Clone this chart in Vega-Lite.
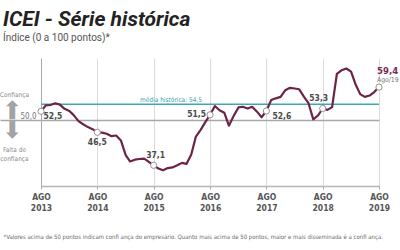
{
  "$schema": "https://vega.github.io/schema/vega-lite/v6.json",
  "width": 338,
  "height": 128,
  "autosize": "none",
  "padding": {"left": 41, "top": 58, "right": 21, "bottom": 64},
  "title": {
    "text": "ICEI - Série histórica",
    "subtitle": "Índice (0 a 100 pontos)*",
    "anchor": "start",
    "frame": "group",
    "dx": -38,
    "offset": 15
  },
  "data": {
    "format": {"parse": {"mes": "date"}},
    "values": [
      {"mes": "2013-08-01", "valor": 52.5},
      {"mes": "2013-09-01", "valor": 54.2},
      {"mes": "2013-10-01", "valor": 54.3},
      {"mes": "2013-11-01", "valor": 54.8},
      {"mes": "2013-12-01", "valor": 54.4},
      {"mes": "2014-01-01", "valor": 53.2},
      {"mes": "2014-02-01", "valor": 52.6},
      {"mes": "2014-03-01", "valor": 51.4},
      {"mes": "2014-04-01", "valor": 49.7},
      {"mes": "2014-05-01", "valor": 48.8},
      {"mes": "2014-06-01", "valor": 48.0},
      {"mes": "2014-07-01", "valor": 47.4},
      {"mes": "2014-08-01", "valor": 46.5},
      {"mes": "2014-09-01", "valor": 46.4},
      {"mes": "2014-10-01", "valor": 46.1},
      {"mes": "2014-11-01", "valor": 45.4},
      {"mes": "2014-12-01", "valor": 45.6},
      {"mes": "2015-01-01", "valor": 44.2},
      {"mes": "2015-02-01", "valor": 40.0},
      {"mes": "2015-03-01", "valor": 38.2},
      {"mes": "2015-04-01", "valor": 38.7},
      {"mes": "2015-05-01", "valor": 38.9},
      {"mes": "2015-06-01", "valor": 39.0},
      {"mes": "2015-07-01", "valor": 38.1},
      {"mes": "2015-08-01", "valor": 37.1},
      {"mes": "2015-09-01", "valor": 36.2},
      {"mes": "2015-10-01", "valor": 35.7},
      {"mes": "2015-11-01", "valor": 36.3},
      {"mes": "2015-12-01", "valor": 36.5},
      {"mes": "2016-01-01", "valor": 37.1},
      {"mes": "2016-02-01", "valor": 37.8},
      {"mes": "2016-03-01", "valor": 37.5},
      {"mes": "2016-04-01", "valor": 40.2},
      {"mes": "2016-05-01", "valor": 45.3},
      {"mes": "2016-06-01", "valor": 47.2},
      {"mes": "2016-07-01", "valor": 49.4},
      {"mes": "2016-08-01", "valor": 51.5},
      {"mes": "2016-09-01", "valor": 54.0},
      {"mes": "2016-10-01", "valor": 52.8},
      {"mes": "2016-11-01", "valor": 52.1},
      {"mes": "2016-12-01", "valor": 48.4},
      {"mes": "2017-01-01", "valor": 51.2},
      {"mes": "2017-02-01", "valor": 53.6},
      {"mes": "2017-03-01", "valor": 53.8},
      {"mes": "2017-04-01", "valor": 53.3},
      {"mes": "2017-05-01", "valor": 53.8},
      {"mes": "2017-06-01", "valor": 52.4},
      {"mes": "2017-07-01", "valor": 50.8},
      {"mes": "2017-08-01", "valor": 52.6},
      {"mes": "2017-09-01", "valor": 55.7},
      {"mes": "2017-10-01", "valor": 56.2},
      {"mes": "2017-11-01", "valor": 56.6},
      {"mes": "2017-12-01", "valor": 58.5},
      {"mes": "2018-01-01", "valor": 59.2},
      {"mes": "2018-02-01", "valor": 59.0},
      {"mes": "2018-03-01", "valor": 58.8},
      {"mes": "2018-04-01", "valor": 56.7},
      {"mes": "2018-05-01", "valor": 54.8},
      {"mes": "2018-06-01", "valor": 50.2},
      {"mes": "2018-07-01", "valor": 51.3},
      {"mes": "2018-08-01", "valor": 53.3},
      {"mes": "2018-09-01", "valor": 52.9},
      {"mes": "2018-10-01", "valor": 53.7},
      {"mes": "2018-11-01", "valor": 63.2},
      {"mes": "2018-12-01", "valor": 64.2},
      {"mes": "2019-01-01", "valor": 64.7},
      {"mes": "2019-02-01", "valor": 63.8},
      {"mes": "2019-03-01", "valor": 60.3},
      {"mes": "2019-04-01", "valor": 57.4},
      {"mes": "2019-05-01", "valor": 56.6},
      {"mes": "2019-06-01", "valor": 57.0},
      {"mes": "2019-07-01", "valor": 58.0},
      {"mes": "2019-08-01", "valor": 59.4}
    ]
  },
  "resolve": {"axis": {"y": "independent"}},
  "layer": [
    {
      "data": {"values": [{"texto": "média histórica: 54,5", "valor": 54.5}]},
      "mark": {"type": "rule", "color": "#3ea7b2", "strokeWidth": 1.5},
      "encoding": {
        "y": {
          "field": "valor",
          "type": "quantitative",
          "title": null,
          "axis": {
            "orient": "left",
            "offset": 0,
            "values": [57.3, 41.6],
            "labelExpr": "datum.value > 50 ? 'Confiança' : ['Falta de', 'confiança']",
            "domain": false,
            "ticks": false,
            "grid": false,
            "labelPadding": 27,
            "labelAlign": "center",
            "labelBaseline": "middle",
            "labelFontSize": 6.5,
            "labelColor": "#8c8c8c",
            "labelLineHeight": 8.5,
            "labelOverlap": false,
            "labelFlush": false
          }
        }
      }
    },
    {
      "data": {"values": [{"texto": "média histórica: 54,5", "valor": 54.5}]},
      "mark": {"type": "text", "align": "right", "baseline": "bottom", "dy": -1.5, "fontSize": 6.5, "color": "#3a9fab"},
      "encoding": {
        "x": {"datum": {"year": 2016, "month": 6, "date": 10, "utc": true}, "type": "temporal", "title": null},
        "y": {
          "field": "valor",
          "type": "quantitative",
          "title": null,
          "axis": {
            "orient": "left",
            "offset": 0,
            "values": [52.6, 47.2],
            "labelExpr": "datum.value > 50 ? '⬆' : '⬇'",
            "domain": false,
            "ticks": false,
            "grid": false,
            "labelPadding": 29,
            "labelAlign": "center",
            "labelBaseline": "middle",
            "labelFont": "DejaVu Sans",
            "labelFontSize": 25,
            "labelColor": "#a3a3a3",
            "labelOverlap": false,
            "labelFlush": false
          }
        },
        "text": {"field": "texto", "type": "nominal"}
      }
    },
    {
      "mark": {"type": "line", "color": "#6d2347", "strokeWidth": 2.2, "strokeJoin": "round"},
      "encoding": {
        "x": {
          "field": "mes",
          "type": "temporal",
          "title": "*Valores acima de 50 pontos indicam confi ança do empresário. Quanto mais acima de 50 pontos, maior e mais disseminada é a confi ança.",
          "scale": {
            "type": "utc",
            "domain": [
              {"year": 2013, "month": 8, "date": 1, "utc": true},
              {"year": 2019, "month": 8, "date": 1, "utc": true}
            ]
          },
          "axis": {
            "values": [
              {"year": 2013, "month": 8, "date": 1, "utc": true},
              {"year": 2014, "month": 2, "date": 1, "utc": true},
              {"year": 2014, "month": 8, "date": 1, "utc": true},
              {"year": 2015, "month": 2, "date": 1, "utc": true},
              {"year": 2015, "month": 8, "date": 1, "utc": true},
              {"year": 2016, "month": 2, "date": 1, "utc": true},
              {"year": 2016, "month": 8, "date": 1, "utc": true},
              {"year": 2017, "month": 2, "date": 1, "utc": true},
              {"year": 2017, "month": 8, "date": 1, "utc": true},
              {"year": 2018, "month": 2, "date": 1, "utc": true},
              {"year": 2018, "month": 8, "date": 1, "utc": true},
              {"year": 2019, "month": 2, "date": 1, "utc": true},
              {"year": 2019, "month": 8, "date": 1, "utc": true}
            ],
            "labelExpr": "utcmonth(datum.value) === 7 ? ['AGO', utcFormat(datum.value, '%Y')] : 'FEV'",
            "labelFontWeight": "bold",
            "labelFontSize": 8.5,
            "labelColor": "#555555",
            "labelAlign": "center",
            "labelBaseline": "top",
            "labelPadding": 3,
            "labelLineHeight": 11,
            "labelFlush": false,
            "labelOverlap": false,
            "grid": true,
            "gridColor": "#dcdcdc",
            "gridWidth": 1,
            "ticks": true,
            "tickSize": 3,
            "tickColor": "#aaaaaa",
            "domainColor": "#b5b5b5",
            "domainWidth": 1.5,
            "titleAnchor": "start",
            "titleAlign": "left",
            "titleX": -38,
            "titleY": 50,
            "titleBaseline": "middle",
            "titleFontSize": 6,
            "titleFontWeight": "normal",
            "titleColor": "#6a6a6a"
          }
        },
        "y": {
          "field": "valor",
          "type": "quantitative",
          "title": null,
          "scale": {"domain": [31.2, 67.7], "nice": false, "zero": false},
          "axis": {
            "orient": "left",
            "offset": 0,
            "values": [50],
            "labelExpr": "format(datum.value, '.1f')",
            "domain": true,
            "domainColor": "#aaaaaa",
            "domainWidth": 1,
            "ticks": true,
            "tickSize": 41,
            "tickColor": "#a8a8a8",
            "tickWidth": 1.5,
            "grid": true,
            "gridColor": "#a8a8a8",
            "gridWidth": 1.5,
            "labelPadding": -36,
            "labelAlign": "right",
            "labelBaseline": "alphabetic",
            "labelOffset": -2,
            "labelColor": "#777777",
            "labelFontSize": 8,
            "labelOverlap": false,
            "labelFlush": false
          }
        }
      }
    },
    {
      "transform": [{"filter": "utcmonth(datum.mes) === 7"}],
      "mark": {"type": "circle", "color": "white", "opacity": 1, "stroke": "#9a8f95", "strokeWidth": 1, "size": 38},
      "encoding": {
        "x": {"field": "mes", "type": "temporal"},
        "y": {"field": "valor", "type": "quantitative", "axis": null}
      }
    },
    {
      "transform": [{"filter": "utcyear(datum.mes) === 2013 && utcmonth(datum.mes) === 7"}],
      "mark": {"type": "text", "align": "left", "baseline": "middle", "dx": 2.5, "dy": 5, "fontWeight": "bold", "fontSize": 8.5, "color": "#4a4a4a"},
      "encoding": {
        "x": {"field": "mes", "type": "temporal"},
        "y": {"field": "valor", "type": "quantitative", "axis": null},
        "text": {"field": "valor", "type": "quantitative", "format": ".1f"}
      }
    },
    {
      "transform": [{"filter": "utcyear(datum.mes) === 2014 && utcmonth(datum.mes) === 7"}],
      "mark": {"type": "text", "align": "center", "baseline": "middle", "dy": 9.5, "fontWeight": "bold", "fontSize": 8.5, "color": "#4a4a4a"},
      "encoding": {
        "x": {"field": "mes", "type": "temporal"},
        "y": {"field": "valor", "type": "quantitative", "axis": null},
        "text": {"field": "valor", "type": "quantitative", "format": ".1f"}
      }
    },
    {
      "transform": [{"filter": "utcyear(datum.mes) === 2015 && utcmonth(datum.mes) === 7"}],
      "mark": {"type": "text", "align": "center", "baseline": "middle", "dx": 2, "dy": -10, "fontWeight": "bold", "fontSize": 8.5, "color": "#4a4a4a"},
      "encoding": {
        "x": {"field": "mes", "type": "temporal"},
        "y": {"field": "valor", "type": "quantitative", "axis": null},
        "text": {"field": "valor", "type": "quantitative", "format": ".1f"}
      }
    },
    {
      "transform": [{"filter": "utcyear(datum.mes) === 2016 && utcmonth(datum.mes) === 7"}],
      "mark": {"type": "text", "align": "right", "baseline": "middle", "dx": -4, "dy": -1, "fontWeight": "bold", "fontSize": 8.5, "color": "#4a4a4a"},
      "encoding": {
        "x": {"field": "mes", "type": "temporal"},
        "y": {"field": "valor", "type": "quantitative", "axis": null},
        "text": {"field": "valor", "type": "quantitative", "format": ".1f"}
      }
    },
    {
      "transform": [{"filter": "utcyear(datum.mes) === 2017 && utcmonth(datum.mes) === 7"}],
      "mark": {"type": "text", "align": "left", "baseline": "middle", "dx": 6, "dy": 5, "fontWeight": "bold", "fontSize": 8.5, "color": "#4a4a4a"},
      "encoding": {
        "x": {"field": "mes", "type": "temporal"},
        "y": {"field": "valor", "type": "quantitative", "axis": null},
        "text": {"field": "valor", "type": "quantitative", "format": ".1f"}
      }
    },
    {
      "transform": [{"filter": "utcyear(datum.mes) === 2018 && utcmonth(datum.mes) === 7"}],
      "mark": {"type": "text", "align": "center", "baseline": "middle", "dx": -4, "dy": -10, "fontWeight": "bold", "fontSize": 8.5, "color": "#4a4a4a"},
      "encoding": {
        "x": {"field": "mes", "type": "temporal"},
        "y": {"field": "valor", "type": "quantitative", "axis": null},
        "text": {"field": "valor", "type": "quantitative", "format": ".1f"}
      }
    },
    {
      "transform": [{"filter": "utcyear(datum.mes) === 2019 && utcmonth(datum.mes) === 7"}],
      "mark": {"type": "text", "align": "left", "baseline": "middle", "dx": -2, "dy": -16, "fontWeight": "bold", "fontSize": 9.5, "color": "#7b2a52"},
      "encoding": {
        "x": {"field": "mes", "type": "temporal"},
        "y": {"field": "valor", "type": "quantitative", "axis": null},
        "text": {"field": "valor", "type": "quantitative", "format": ".1f"}
      }
    },
    {
      "transform": [{"filter": "utcyear(datum.mes) === 2019 && utcmonth(datum.mes) === 7"}],
      "mark": {"type": "text", "align": "left", "baseline": "middle", "dx": -2, "dy": -7.5, "fontSize": 6.8, "color": "#777777"},
      "encoding": {
        "x": {"field": "mes", "type": "temporal"},
        "y": {"field": "valor", "type": "quantitative", "axis": null},
        "text": {"field": "mes", "type": "temporal", "timeUnit": "utcyearmonth", "format": "%b/%y"}
      }
    }
  ],
  "config": {
    "view": {"stroke": null},
    "font": "DejaVu Sans Condensed",
    "locale": {
      "number": {"decimal": ",", "thousands": ".", "grouping": [3], "currency": ["R$", ""]},
      "time": {
        "dateTime": "%A, %e de %B de %Y. %X",
        "date": "%d/%m/%Y",
        "time": "%H:%M:%S",
        "periods": ["AM", "PM"],
        "days": ["Domingo", "Segunda", "Terça", "Quarta", "Quinta", "Sexta", "Sábado"],
        "shortDays": ["Dom", "Seg", "Ter", "Qua", "Qui", "Sex", "Sáb"],
        "months": ["Janeiro", "Fevereiro", "Março", "Abril", "Maio", "Junho", "Julho", "Agosto", "Setembro", "Outubro", "Novembro", "Dezembro"],
        "shortMonths": ["Jan", "Fev", "Mar", "Abr", "Mai", "Jun", "Jul", "Ago", "Set", "Out", "Nov", "Dez"]
      }
    },
    "title": {
      "font": "Roboto",
      "fontSize": 21,
      "fontWeight": "bold",
      "fontStyle": "italic",
      "color": "#222222",
      "subtitleFont": "Roboto",
      "subtitleFontSize": 10,
      "subtitleColor": "#555555",
      "subtitlePadding": 3
    }
  }
}
